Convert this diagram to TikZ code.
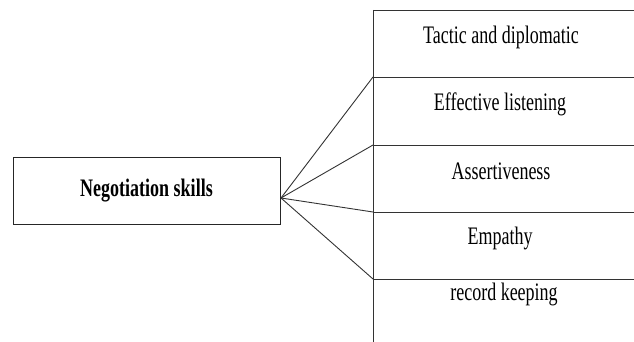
\documentclass[tikz,border=0pt]{standalone}
\usepackage{fontspec}
\setmainfont{Liberation Serif}
\usepackage{tikz}
\usepackage{xcolor}
\usetikzlibrary{calc}

\newcommand{\tallword}[1]{\scalebox{1}[1.4]{#1}}

\begin{document}
\begin{tikzpicture}[x=1pt,y=-1pt,
  skillbox/.style={rectangle, draw=black!85, line width=0.9pt, minimum width=267pt, minimum height=67pt, inner sep=0pt, font=\fontsize{18}{20}\selectfont\bfseries},
  celltext/.style={inner sep=0pt, font=\fontsize{18}{20}\selectfont}]
            \useasboundingbox (0,0) rectangle (634,342);

            \node[skillbox] (N) at (146.5,190.5) {\raisebox{5pt}{\tallword{Negotiation skills}}};
            \coordinate (hub) at (281,198);

            \coordinate (S1) at (373,10);
            \coordinate (S2) at (373,77);
            \coordinate (S3) at (373,145);
            \coordinate (S4) at (373,212);
            \coordinate (S5) at (373,279);
            \coordinate (S6) at (373,342);

            \node[celltext] (T1) at (501,37) {\tallword{Tactic and diplomatic}};
            \node[celltext] (T2) at (500,104) {\tallword{Effective listening}};
            \node[celltext] (T3) at (501,171) {\tallword{Assertiveness}};
            \node[celltext] (T4) at (500,238) {\tallword{Empathy}};
            \node[celltext] (T5) at (504,294) {\tallword{record keeping}};

            \tikzset{rule/.style={draw=black!80, line width=0.9pt}}

            \draw[rule] (S1) -- (S6);
            \foreach \s in {S1,S2,S3,S4,S5}
              \draw[rule] (\s) -- ($(\s)+(262,0)$);

            \draw[rule] (hub) -- (S2);
            \draw[rule] (hub) -- (S3);
            \draw[rule] (hub) -- (S4);
            \draw[rule] (hub) -- (S5);

        \end{tikzpicture}
\end{document}
